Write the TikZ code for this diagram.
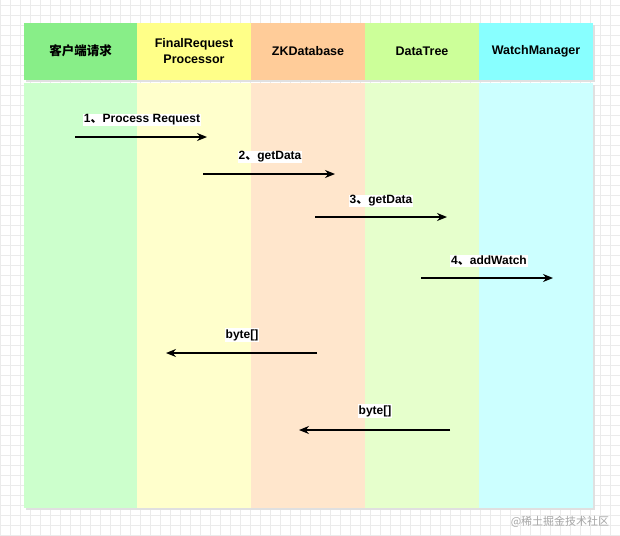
\documentclass[tikz,border=0pt]{standalone}
\usepackage{fontspec}
\usetikzlibrary{arrows.meta}
\setmainfont{Liberation Sans}
\newfontfamily\cjk{Noto Sans CJK SC}
\begin{document}
\begin{tikzpicture}[x=1pt,y=-1pt,
  hdr/.style={font=\bfseries\fontsize{12.5}{15.5}\selectfont, align=center},
  lbl/.style={font=\bfseries\fontsize{12}{14}\selectfont, inner sep=1pt, fill=white},
  msg/.style={-{Stealth[length=10pt,width=8pt]}, line width=1.3pt}]
\useasboundingbox (0,0) rectangle (620,535);
\fill[white] (0,0) rectangle (620,535);
\foreach \k in {0,10,...,620} \draw[black!8] (\k,0) -- (\k,535);
\foreach \k in {5,15,...,535} \draw[black!8] (0,\k) -- (620,\k);
\def\cols{{24,137,251,365,479,593}}
\foreach \i/\hc/\bc in {0/88EE88/CCFFCC,1/FFFF88/FFFFCC,2/FFCC99/FFE6CC,3/CCFF99/E6FFCC,4/88FFFF/CCFFFF}{
  \pgfmathsetmacro\xa{\cols[\i]}
  \pgfmathsetmacro\xb{\cols[\i+1]}
  \definecolor{hc}{HTML}{\hc}\definecolor{bc}{HTML}{\bc}
  \fill[black!12] (\xa+2,25) rectangle (\xb+2,82);
  \fill[black!12] (\xa+2,85) rectangle (\xb+2,510);
  \fill[hc] (\xa,23) rectangle (\xb,80);
  \fill[bc] (\xa,83) rectangle (\xb,508);
}
\node[hdr] (h1) at (80.5,51) {\cjk\bfseries 客户端请求};
\node[hdr] (h2) at (194,51) {FinalRequest\\Processor};
\node[hdr] (h3) at (308,51) {ZKDatabase};
\node[hdr] (h4) at (422,51) {DataTree};
\node[hdr] (h5) at (536,51) {WatchManager};
\coordinate (a1s) at (75,137); \coordinate (a1e) at (207,137);
\coordinate (a2s) at (203,174); \coordinate (a2e) at (335,174);
\coordinate (a3s) at (315,217); \coordinate (a3e) at (447,217);
\coordinate (a4s) at (421,278); \coordinate (a4e) at (553,278);
\coordinate (a5s) at (317,353); \coordinate (a5e) at (166,353);
\coordinate (a6s) at (450,430); \coordinate (a6e) at (299,430);
\draw[msg] (a1s) -- (a1e);
\draw[msg] (a2s) -- (a2e);
\draw[msg] (a3s) -- (a3e);
\draw[msg] (a4s) -- (a4e);
\draw[msg] (a5s) -- (a5e);
\draw[msg] (a6s) -- (a6e);
\node[lbl] (l1) at (142,120) {1{\cjk 、}Process Request};
\node[lbl] (l2) at (270,157) {2{\cjk 、}getData};
\node[lbl] (l3) at (381,201) {3{\cjk 、}getData};
\node[lbl] (l4) at (489,261) {4{\cjk 、}addWatch};
\node[lbl] (l5) at (242,335) {byte[]};
\node[lbl] (l6) at (375,411) {byte[]};
\node[font=\cjk\fontsize{11}{13}\selectfont, text=black!35] (wm) at (560,522) {@稀土掘金技术社区};
\end{tikzpicture}
\end{document}
